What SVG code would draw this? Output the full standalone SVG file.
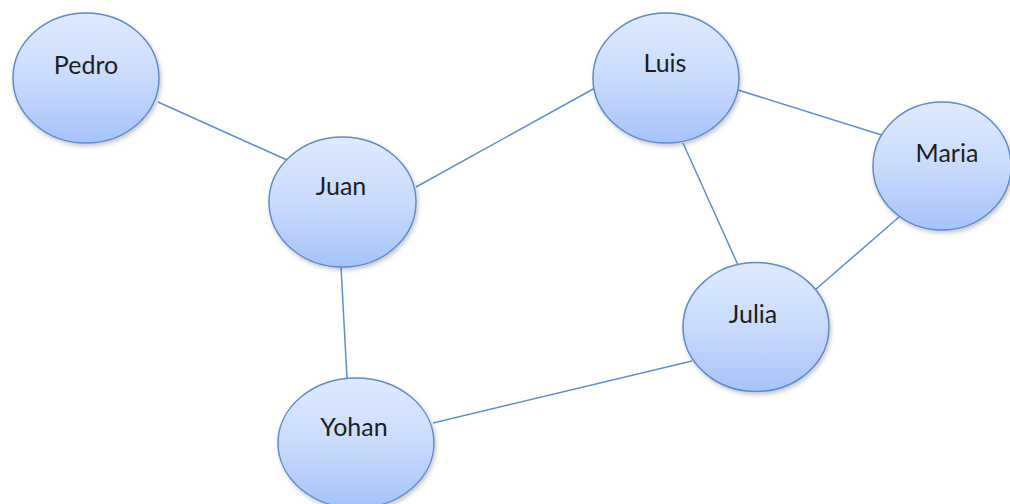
<svg xmlns="http://www.w3.org/2000/svg" width="1010" height="504" viewBox="0 0 1010 504">
  <defs>
    <linearGradient id="g" x1="0" y1="0" x2="0" y2="1">
      <stop offset="0" stop-color="#dfeaff"/>
      <stop offset="0.5" stop-color="#c9dbfc"/>
      <stop offset="1" stop-color="#a6c3fa"/>
    </linearGradient>
    <filter id="sh" x="-20%" y="-20%" width="140%" height="140%">
      <feDropShadow dx="1.5" dy="2.5" stdDeviation="2" flood-color="#000" flood-opacity="0.22"/>
    </filter>
  </defs>
  <style>
    .n ellipse { fill: url(#g); stroke: #5f8bc7; stroke-width: 1.5; filter: url(#sh); }
    .n text { font-family: Lato, "Open Sans", "Liberation Sans", sans-serif; font-size: 25px; fill: #1e1e1e; text-anchor: middle; }
    #edges line { stroke: #5f8fcb; stroke-width: 1.5; }
  </style>
  <rect width="1010" height="504" fill="#fff"/>
  <g id="edges">
    <line x1="158" y1="102" x2="287" y2="160"/>
    <line x1="416" y1="187" x2="595" y2="88"/>
    <line x1="738" y1="90" x2="888" y2="137"/>
    <line x1="683" y1="143" x2="738" y2="265"/>
    <line x1="899" y1="217" x2="815" y2="290"/>
    <line x1="341" y1="267" x2="347" y2="378"/>
    <line x1="433" y1="423" x2="692" y2="361"/>
  </g>
  <g id="pedro" class="n">
    <ellipse cx="86" cy="78" rx="73" ry="65"/>
    <text x="86" y="74">Pedro</text>
  </g>
  <g id="juan" class="n">
    <ellipse cx="342.5" cy="202" rx="73.5" ry="65"/>
    <text x="341" y="195">Juan</text>
  </g>
  <g id="luis" class="n">
    <ellipse cx="666" cy="78" rx="73" ry="65"/>
    <text x="665" y="72">Luis</text>
  </g>
  <g id="maria" class="n">
    <ellipse cx="942" cy="166" rx="69" ry="64"/>
    <text x="947" y="162">Maria</text>
  </g>
  <g id="julia" class="n">
    <ellipse cx="756" cy="327" rx="73" ry="64.5"/>
    <text x="753" y="323">Julia</text>
  </g>
  <g id="yohan" class="n">
    <ellipse cx="356" cy="443" rx="78" ry="65"/>
    <text x="354" y="436">Yohan</text>
  </g>
</svg>
